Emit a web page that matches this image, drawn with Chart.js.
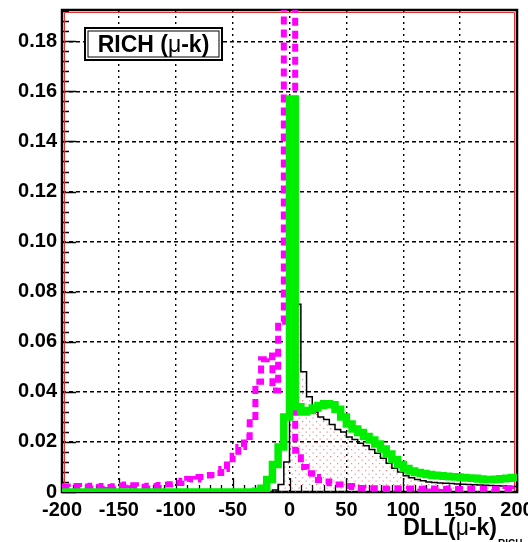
<!DOCTYPE html>
<html>
<head>
<meta charset="utf-8">
<script src="https://cdn.jsdelivr.net/npm/chart.js@4.4.1/dist/chart.umd.min.js"></script>
<style>
  html, body { margin: 0; padding: 0; background: #fff; }
  canvas { display: block; }
</style>
</head>
<body>
<canvas id="dll-rich" width="528" height="542"></canvas>
<script>
// RICH DLL(mu-k) distributions, 80 bins of 5 from -200 to 200
const binLow = -200;
const binWidth = 5;

// kaons (magenta, dashed)
const kaonDll = [
  0.0022, 0.0020, 0.0024, 0.0020, 0.0022, 0.0025, 0.0021, 0.0024, 0.0020, 0.0023,
  0.0026, 0.0030, 0.0027, 0.0022, 0.0021, 0.0025, 0.0024, 0.0028, 0.0030, 0.0031,
  0.0036, 0.0045, 0.0052, 0.0050, 0.0060, 0.0066, 0.0068, 0.0076, 0.0092, 0.0110,
  0.0145, 0.0180, 0.0220, 0.0300, 0.0440, 0.0530, 0.0545, 0.0405, 0.0680, 0.3000,
  0.2600, 0.0165, 0.0100, 0.0075, 0.0060, 0.0048, 0.0042, 0.0035, 0.0030, 0.0030,
  0.0024, 0.0020, 0.0016, 0.0014, 0.0015, 0.0013, 0.0014, 0.0012, 0.0015, 0.0013,
  0.0012, 0.0014, 0.0013, 0.0012, 0.0014, 0.0012, 0.0013, 0.0012, 0.0014, 0.0012,
  0.0011, 0.0013, 0.0012, 0.0011, 0.0013, 0.0012, 0.0011, 0.0012, 0.0013, 0.0012
];

// muons (green, thick)
const muonDll = [
  0, 0, 0, 0, 0, 0, 0, 0, 0, 0,
  0, 0, 0, 0, 0, 0, 0, 0, 0, 0,
  0, 0, 0, 0, 0, 0, 0, 0, 0, 0,
  0, 0, 0, 0, 0.0003, 0.0015, 0.0050, 0.0110, 0.0180, 0.0300,
  0.1570, 0.0340, 0.0320, 0.0325, 0.0335, 0.0345, 0.0352, 0.0348, 0.0330, 0.0300,
  0.0272, 0.0252, 0.0238, 0.0222, 0.0208, 0.0192, 0.0172, 0.0152, 0.0130, 0.0110,
  0.0094, 0.0084, 0.0078, 0.0074, 0.0070, 0.0067, 0.0065, 0.0063, 0.0061, 0.0060,
  0.0058, 0.0056, 0.0055, 0.0052, 0.0050, 0.0050, 0.0051, 0.0053, 0.0055, 0.0058
];

// muons from the reference sample (black outline, red dotted fill)
const muonRefDll = [
  0, 0, 0, 0, 0, 0, 0, 0, 0, 0,
  0, 0, 0, 0, 0, 0, 0, 0, 0, 0,
  0, 0, 0, 0, 0, 0, 0, 0, 0, 0,
  0, 0, 0, 0, 0, 0, 0, 0.0008, 0.0030, 0.0120,
  0.1500, 0.0750, 0.0480, 0.0380, 0.0320, 0.0300, 0.0290, 0.0270, 0.0250, 0.0240,
  0.0220, 0.0210, 0.0195, 0.0185, 0.0170, 0.0155, 0.0135, 0.0115, 0.0095, 0.0080,
  0.0065, 0.0057, 0.0050, 0.0045, 0.0040, 0.0038, 0.0036, 0.0035, 0.0034, 0.0032,
  0.0031, 0.0030, 0.0029, 0.0028, 0.0027, 0.0026, 0.0025, 0.0024, 0.0023, 0.0022
];

const yMax = 0.1925;

// histogram -> stepped points at bin edges (closing edge repeats last value)
function toSteps(values) {
  const pts = values.map((v, i) => ({ x: binLow + i * binWidth, y: v }));
  pts.push({ x: binLow + values.length * binWidth, y: values[values.length - 1] });
  return pts;
}

// sparse red dots for the filled histogram
function dotPattern() {
  const c = document.createElement('canvas');
  c.width = 7; c.height = 7;
  const g = c.getContext('2d');
  g.fillStyle = 'rgba(240,80,80,0.7)';
  g.fillRect(1, 1, 1.2, 1.2);
  g.fillRect(4.5, 4.5, 1.2, 1.2);
  return g.createPattern(c, 'repeat');
}

const FONT = '"Liberation Sans", Arial, Helvetica, sans-serif';

// draw a row of text runs with their own fonts, starting at x
function drawRuns(ctx, runs, x, y) {
  runs.forEach(r => {
    ctx.font = r.font;
    ctx.fillText(r.text, x, y);
    x += ctx.measureText(r.text).width;
  });
  return x;
}
function runsWidth(ctx, runs) {
  let w = 0;
  runs.forEach(r => { ctx.font = r.font; w += ctx.measureText(r.text).width; });
  return w;
}

// frame and inward ticks, ROOT style
const framePlugin = {
  id: 'frame',
  beforeDatasetsDraw(chart) {
    const { ctx, chartArea: a, scales: { x, y } } = chart;
    ctx.save();
    ctx.strokeStyle = '#000';
    ctx.lineWidth = 1.3;
    ctx.beginPath();
    for (let k = 0; k * 0.004 <= yMax; k++) {
      const py = Math.round(y.getPixelForValue(k * 0.004)) + 0.5;
      const len = k % 5 === 0 ? 14 : 7;
      ctx.moveTo(a.left, py);
      ctx.lineTo(a.left + len, py);
    }
    for (let k = -20; k <= 20; k++) {
      const px = Math.round(x.getPixelForValue(k * 10)) + 0.5;
      const len = k % 5 === 0 ? 14 : 7;
      ctx.moveTo(px, a.bottom);
      ctx.lineTo(px, a.bottom - len);
    }
    ctx.stroke();

    ctx.strokeStyle = '#e03030';
    ctx.lineWidth = 1;
    ctx.beginPath();
    ctx.moveTo(a.left + 2.5, a.bottom);
    ctx.lineTo(a.left + 2.5, a.top + 2.5);
    ctx.lineTo(a.right - 2.5, a.top + 2.5);
    ctx.lineTo(a.right - 2.5, a.bottom);
    ctx.stroke();

    ctx.strokeStyle = '#000';
    ctx.lineWidth = 2.5;
    ctx.strokeRect(a.left, a.top, a.right - a.left, a.bottom - a.top);
    ctx.restore();
  },
  afterDraw(chart) {
    const { ctx } = chart;
    ctx.save();
    ctx.textBaseline = 'alphabetic';

    // label box
    const bx = 85, by = 28, bw = 137, bh = 32;
    ctx.fillStyle = '#fff';
    ctx.fillRect(bx, by, bw, bh);
    ctx.strokeStyle = '#000';
    ctx.lineWidth = 2;
    ctx.strokeRect(bx, by, bw, bh);
    ctx.lineWidth = 1;
    ctx.strokeRect(bx + 3, by + 3, bw - 6, bh - 6);
    const boxRuns = [
      { text: 'RICH (', font: 'bold 23px ' + FONT },
      { text: 'μ', font: '23px ' + FONT },
      { text: '-k)', font: 'bold 23px ' + FONT }
    ];
    ctx.fillStyle = '#000';
    const tw = runsWidth(ctx, boxRuns);
    drawRuns(ctx, boxRuns, bx + (bw - tw) / 2, by + 24);

    // x axis title with subscript
    const titleRuns = [
      { text: 'DLL(', font: 'bold 23px ' + FONT },
      { text: 'μ', font: '23px ' + FONT },
      { text: '-k)', font: 'bold 23px ' + FONT }
    ];
    const ttw = runsWidth(ctx, titleRuns);
    const endX = drawRuns(ctx, titleRuns, 497 - ttw, 535);
    ctx.font = 'bold 10px ' + FONT;
    ctx.fillText('RICH', endX + 1, 547);
    ctx.restore();
  }
};

new Chart(document.getElementById('dll-rich'), {
  type: 'line',
  data: {
    datasets: [
      {
        label: 'mu',
        data: toSteps(muonDll),
        stepped: 'before',
        borderColor: '#00ee00',
        borderWidth: 7.5,
        pointRadius: 0,
        fill: false
      },
      {
        label: 'K',
        data: toSteps(kaonDll),
        stepped: 'before',
        borderColor: '#ff00ff',
        borderWidth: 6,
        borderDash: [8, 5],
        pointRadius: 0,
        fill: false
      },
      {
        label: 'mu ref',
        data: toSteps(muonRefDll),
        stepped: 'before',
        borderColor: '#000',
        borderWidth: 1.5,
        pointRadius: 0,
        fill: 'origin',
        backgroundColor: dotPattern()
      }
    ]
  },
  options: {
    responsive: false,
    animation: false,
    devicePixelRatio: 1,
    layout: { padding: { top: 10, right: 11, left: 0, bottom: 0 } },
    plugins: {
      legend: { display: false },
      tooltip: { enabled: false }
    },
    scales: {
      x: {
        type: 'linear',
        min: -200,
        max: 200,
        afterFit(s) { s.height = 50; s.paddingLeft = 0; s.paddingRight = 0; },
        grid: { color: '#000', lineWidth: 1.4, drawTicks: false },
        border: { display: false, dash: [2, 4] },
        ticks: {
          stepSize: 50,
          includeBounds: false,
          autoSkip: false,
          maxRotation: 0,
          padding: 6,
          color: '#000',
          font: { family: FONT, size: 20, weight: 'bold' }
        }
      },
      y: {
        min: 0,
        max: yMax,
        afterFit(s) { s.width = 62; s.paddingTop = 0; s.paddingBottom = 0; },
        grid: { color: '#000', lineWidth: 1.4, drawTicks: false },
        border: { display: false, dash: [4, 3] },
        ticks: {
          stepSize: 0.02,
          includeBounds: false,
          padding: 5,
          color: '#000',
          font: { family: FONT, size: 20, weight: 'bold' }
        }
      }
    }
  },
  plugins: [framePlugin]
});
</script>
</body>
</html>
